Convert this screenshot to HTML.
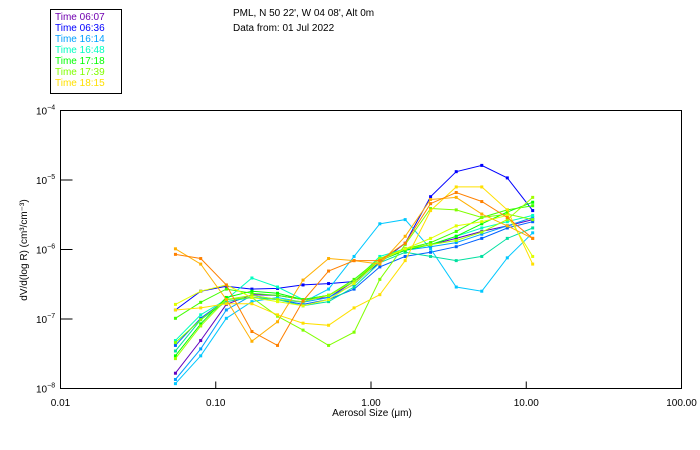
<!DOCTYPE html>
<html><head><meta charset="utf-8">
<style>
body{margin:0;background:#fff;}
svg{display:block;font-family:"Liberation Sans",sans-serif;}
</style></head>
<body>
<svg id="chart" width="700" height="450" viewBox="0 0 700 450">
  <rect x="0" y="0" width="700" height="450" fill="#fff"/>
  <g>
    <rect x="50.5" y="9.5" width="71" height="84" fill="none" stroke="#000" stroke-width="1"/>
    <g id="legendItems" font-size="10"></g>
  </g>
  <text x="233" y="16" font-size="10">PML, N 50 22', W 04 08', Alt 0m</text>
  <text x="233" y="31" font-size="10">Data from: 01 Jul 2022</text>
  <g id="series"></g>
  <rect x="60.5" y="110.5" width="621" height="278" fill="none" stroke="#000" stroke-width="1"/>
  <g id="axes"></g>
  <text transform="translate(27,250) rotate(-90)" text-anchor="middle" font-size="10">dV/d(log R) (cm³/cm⁻³)</text>
  <text x="372" y="416" text-anchor="middle" font-size="10">Aerosol Size (μm)</text>
</svg>
<script>
// Data
const sizes = [0.055,0.08,0.117,0.171,0.25,0.365,0.533,0.778,1.14,1.66,2.42,3.54,5.17,7.55,11.0];
const xTicks = [0.01,0.1,1,10,100];
const xTickLabels = ["0.01","0.10","1.00","10.00","100.00"];
const yTickExps = [-4,-5,-6,-7,-8];
const legendLabels = ["Time 06:07","Time 06:36","Time 16:14","Time 16:48","Time 17:18","Time 17:39","Time 18:15"];
const legendColors = ["#7000b0","#0000ff","#00a0ff","#00ffc0","#00ff00","#80ff00","#ffe000"];
const seriesColors = ["#6000c0","#0000ff","#0060ff","#00c8ff","#00a0ff","#00ffc0","#00e0a0","#00ff00","#40ff00","#80ff00","#a0ff00","#ffe000","#e0ff00","#ffb000","#ff8000"];
// log10 of dV/dlogR values
const s1  = [-7.78,-7.31,-6.79,-6.65,-6.66,-6.72,-6.69,-6.46,-6.16,-5.99,-5.93,-5.84,-5.74,-5.66,-5.57];
const s2  = [-6.87,-6.60,-6.53,-6.57,-6.56,-6.51,-6.49,-6.46,-6.19,-5.91,-5.24,-4.88,-4.79,-4.97,-5.44];
const s3  = [-7.38,-6.99,-6.72,-6.69,-6.72,-6.79,-6.72,-6.57,-6.25,-6.10,-6.04,-5.96,-5.84,-5.69,-5.60];
const s4  = [-7.93,-7.53,-6.99,-6.75,-6.69,-6.76,-6.57,-6.10,-5.63,-5.57,-5.99,-6.54,-6.60,-6.12,-5.76];
const s5  = [-7.87,-7.43,-6.87,-6.66,-6.72,-6.76,-6.69,-6.50,-6.16,-6.01,-5.96,-5.90,-5.78,-5.66,-5.54];
const s6  = [-7.31,-6.94,-6.72,-6.41,-6.54,-6.72,-6.66,-6.46,-6.10,-5.99,-5.93,-5.81,-5.69,-5.60,-5.51];
const s7  = [-7.46,-7.01,-6.75,-6.69,-6.72,-6.81,-6.75,-6.54,-6.19,-6.04,-6.10,-6.16,-6.10,-5.84,-5.69];
const s8  = [-7.53,-7.07,-6.69,-6.60,-6.63,-6.72,-6.66,-6.46,-6.16,-6.01,-5.93,-5.81,-5.63,-5.46,-5.32];
const s9  = [-6.99,-6.76,-6.57,-6.63,-6.66,-6.72,-6.66,-6.43,-6.13,-5.99,-5.90,-5.74,-5.54,-5.43,-5.37];
const s10 = [-7.34,-7.01,-6.72,-6.69,-6.96,-7.16,-7.38,-7.19,-6.43,-5.93,-5.41,-5.43,-5.54,-5.49,-5.57];
const s11 = [-7.57,-7.10,-6.72,-6.66,-6.72,-6.75,-6.66,-6.46,-6.13,-5.99,-5.93,-5.87,-5.75,-5.57,-5.25];
const s12 = [-6.87,-6.84,-6.78,-6.78,-6.94,-7.06,-7.09,-6.84,-6.65,-6.16,-5.44,-5.10,-5.10,-5.43,-6.21];
const s13 = [-6.79,-6.60,-6.51,-6.69,-6.75,-6.81,-6.72,-6.49,-6.16,-5.99,-5.84,-5.66,-5.60,-5.51,-6.10];
const s14 = [-5.99,-6.21,-6.72,-7.32,-7.04,-6.44,-6.13,-6.16,-6.21,-5.81,-5.28,-5.25,-5.49,-5.66,-5.84];
const s15 = [-6.07,-6.13,-6.51,-7.18,-7.38,-6.74,-6.31,-6.16,-6.16,-5.91,-5.34,-5.18,-5.31,-5.54,-5.84];
const allSeries = [s1,s2,s3,s4,s5,s6,s7,s8,s9,s10,s11,s12,s13,s14,s15];

const NS="http://www.w3.org/2000/svg";
const X0=60.5,X1=681.5,Y0=110.5,Y1=388.5;
function xScale(v){return X0+(Math.log10(v)+2)/4*(X1-X0);}
function yScale(e){return Y0+(-4-e)/4*(Y1-Y0);}
function mk(tag,attrs,parent){const el=document.createElementNS(NS,tag);for(const k in attrs)el.setAttribute(k,attrs[k]);parent.appendChild(el);return el;}

const axes=document.getElementById('axes');
xTicks.forEach((t,i)=>{
  const x=xScale(t);
  if(i>0&&i<xTicks.length-1){
    const tk=mk('line',{x1:x,x2:x,y1:Y1,y2:Y1-7,stroke:'#000'},axes);
    
    
  }
  const tx=mk('text',{x:x,y:406,'text-anchor':'middle','font-size':'10'},axes);
  tx.textContent=xTickLabels[i];
  
  
});
yTickExps.forEach((e,i)=>{
  const y=yScale(e);
  if(i>0&&i<yTickExps.length-1){
    const tk=mk('line',{x1:X0,x2:X0+12,y1:y,y2:y,stroke:'#000'},axes);
    
    
  }
  const tx=mk('text',{x:36,y:y+4,'font-size':'10'},axes);
  
  
  const a=document.createElementNS(NS,'tspan');a.textContent='10';tx.appendChild(a);
  const b=document.createElementNS(NS,'tspan');b.setAttribute('dy','-5');b.setAttribute('font-size','7');b.textContent=String(e).replace('-','−');tx.appendChild(b);
});

const sg=document.getElementById('series');
allSeries.forEach((s,k)=>{
  const g=mk('g',{},sg);
  
  
  const pts=s.map((e,i)=>xScale(sizes[i]).toFixed(1)+','+yScale(e).toFixed(1)).join(' ');
  const pl=mk('polyline',{points:pts,fill:'none',stroke:seriesColors[k],'stroke-width':'1'},g);
  
  
  s.forEach((e,i)=>{
    const r=mk('rect',{x:xScale(sizes[i])-1.5,y:yScale(e)-1.5,width:3,height:3,fill:seriesColors[k]},g);
    
    
  });
});

const lg=document.getElementById('legendItems');
legendLabels.forEach((l,i)=>{
  const t=mk('text',{x:55,y:20+i*11,fill:legendColors[i]},lg);
  t.textContent=l;
  
  
});
</script>
</body></html>
